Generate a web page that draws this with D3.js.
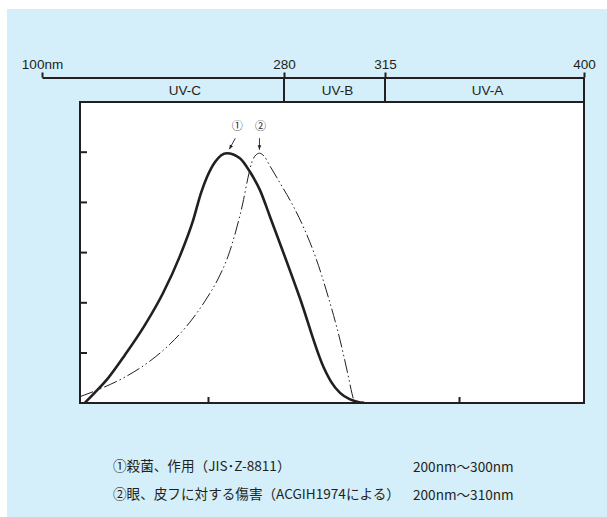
<!DOCTYPE html>
<html>
<head>
<meta charset="utf-8">
<script src="https://cdn.jsdelivr.net/npm/d3@7"></script>
<style>
  body { margin: 0; background: #fff; }
  svg { display: block; }
</style>
</head>
<body>
<svg id="chart" width="607" height="517"></svg>
<script>
// Top wavelength scale (schematic, not linear)
const topTicks = [100, 280, 315, 400];
const topLabels = ['100nm', '280', '315', '400'];
const bands = [
  { name: 'UV-C', from: 100, to: 280 },
  { name: 'UV-B', from: 280, to: 315 },
  { name: 'UV-A', from: 315, to: 400 }
];

// Lower plot ticks
const xTicks = [250, 350];
const yTicks = [20, 40, 60, 80, 100];

// ① germicidal action [nm, relative %]
const germicidal = [
  [201, 0], [205, 4.1], [210.2, 9.8], [216.9, 19], [224.9, 31], [232.1, 43.7],
  [238.8, 58.4], [244, 72.4], [247.2, 83.5], [249.6, 89.9], [252.8, 95.9],
  [257.5, 99.4], [262.7, 97.4], [266.7, 92], [270.7, 84.7], [274.7, 74.1],
  [286.6, 41.7], [296.2, 13.8], [299, 8.4], [302.6, 3.9], [306.6, 1.3],
  [309.8, 0.3], [312.2, 0]
];

// ② eye / skin hazard (ACGIH 1974) [nm, relative %]
const hazard = [
  [199, 2.4], [207, 5.5], [216.9, 10.2], [226.9, 16.6], [234.9, 23.4],
  [242.8, 32.1], [248.8, 40.5], [254, 49.3], [258, 58.4], [261.2, 68.8],
  [263.9, 79.6], [265.9, 89.5], [267.5, 95.9], [269.1, 98.7], [270.5, 99.4],
  [272.3, 98.3], [274.7, 94.3], [278.7, 87.5], [283.5, 79.2], [288.2, 69.6],
  [293, 57.6], [297.8, 42.5], [302.6, 25], [305.8, 11], [307.4, 3.5], [308.2, 0.4]
];

const legendRows = [
  { label: '①殺菌、作用（JIS･Z-8811）', range: '200nm～300nm' },
  { label: '②眼、皮フに対する傷害（ACGIH1974による）', range: '200nm～310nm' }
];

const ink = '#231f20';
const svg = d3.select('#chart');

// fondo
svg.append('rect')
  .attr('x', 7).attr('y', 9)
  .attr('width', 600).attr('height', 508)
  .attr('fill', '#d4eefa');

const axisY = 77.5;
const box = { left: 80, right: 584, top: 102, bottom: 403 };

const topX = d3.scaleLinear()
  .domain(topTicks)
  .range([42, 284, 385, 584]);

const x = d3.scaleLinear().domain([200, 400]).range([82.5, 584.5]);
const y = d3.scaleLinear().domain([0, 100]).range([402.7, 151.7]);

// plot box
svg.append('rect')
  .attr('x', box.left).attr('y', box.top)
  .attr('width', box.right - box.left).attr('height', box.bottom - box.top)
  .attr('fill', '#fff')
  .attr('stroke', ink)
  .attr('stroke-width', 2);

// top axis
const topAxis = svg.append('g')
  .attr('transform', `translate(0,${axisY})`)
  .call(d3.axisTop(topX)
    .tickValues(topTicks)
    .tickSize(5)
    .tickSizeOuter(0)
    .tickPadding(4)
    .tickFormat((d, i) => topLabels[i]));
topAxis.attr('font-size', null).attr('font-family', null);
topAxis.select('.domain').attr('stroke', ink).attr('stroke-width', 2);
topAxis.selectAll('.tick line').attr('stroke', ink).attr('stroke-width', 2);
topAxis.selectAll('.tick text')
  .attr('fill', ink)
  .style('font-family', '"Liberation Sans", Arial, sans-serif')
  .style('font-size', '13.5px');

// band dividers
svg.append('g')
  .selectAll('line')
  .data(topTicks.slice(1))
  .enter()
  .append('line')
  .attr('x1', d => topX(d)).attr('x2', d => topX(d))
  .attr('y1', axisY).attr('y2', d => d === 400 ? box.bottom : box.top)
  .attr('stroke', ink)
  .attr('stroke-width', 2);

// band labels
svg.append('g')
  .selectAll('text')
  .data(bands)
  .enter()
  .append('text')
  .attr('x', d => (Math.max(box.left, topX(d.from)) + topX(d.to)) / 2 + 3)
  .attr('y', 94.5)
  .attr('text-anchor', 'middle')
  .attr('fill', ink)
  .style('font-family', '"Liberation Sans", Arial, sans-serif')
  .style('font-size', '13.5px')
  .text(d => d.name);

// inner ticks
const gx = svg.append('g')
  .attr('transform', `translate(0,${box.bottom})`)
  .call(d3.axisBottom(x).tickValues(xTicks).tickSize(-6).tickFormat(''));
gx.select('.domain').remove();
gx.selectAll('.tick line').attr('stroke', ink).attr('stroke-width', 2);

const gy = svg.append('g')
  .attr('transform', `translate(${box.left},0)`)
  .call(d3.axisLeft(y).tickValues(yTicks).tickSize(-7).tickFormat(''));
gy.select('.domain').remove();
gy.selectAll('.tick line').attr('stroke', ink).attr('stroke-width', 2);

// curves
const line = d3.line()
  .x(d => x(d[0]))
  .y(d => y(d[1]))
  .curve(d3.curveMonotoneX);

svg.append('path')
  .datum(hazard)
  .attr('d', line)
  .attr('fill', 'none')
  .attr('stroke', ink)
  .attr('stroke-width', 1)
  .attr('stroke-dasharray', '14,3,1.5,3,1.5,3');

svg.append('path')
  .datum(germicidal)
  .attr('d', line)
  .attr('fill', 'none')
  .attr('stroke', ink)
  .attr('stroke-width', 2.6)
  .attr('stroke-linejoin', 'round');

// arrow markers
svg.append('defs').append('marker')
  .attr('id', 'arrow')
  .attr('viewBox', '0 0 10 10')
  .attr('refX', 10).attr('refY', 5)
  .attr('markerWidth', 5).attr('markerHeight', 5)
  .attr('orient', 'auto')
  .append('path')
  .attr('d', 'M0,1L10,5L0,9Z')
  .attr('fill', ink);

const peak1 = germicidal.reduce((a, b) => (b[1] > a[1] ? b : a));
const peak2 = hazard.reduce((a, b) => (b[1] > a[1] ? b : a));
const notes = [
  { mark: '①', p: peak1, lx: 10.5, ax0: 8.5, ay0: -15, ax1: 2.5, ay1: -4 },
  { mark: '②', p: peak2, lx: 1, ax0: 0, ay0: -15, ax1: 0, ay1: -3.5 }
];

notes.forEach(n => {
  const px = x(n.p[0]), py = y(n.p[1]);
  svg.append('text')
    .attr('x', px + n.lx)
    .attr('y', py - 28)
    .attr('text-anchor', 'middle')
    .attr('dominant-baseline', 'central')
    .attr('fill', ink)
    .style('font-family', '"Noto Sans CJK JP", sans-serif')
    .style('font-size', '11px')
    .text(n.mark);
  svg.append('line')
    .attr('x1', px + n.ax0).attr('y1', py + n.ay0)
    .attr('x2', px + n.ax1).attr('y2', py + n.ay1)
    .attr('stroke', ink)
    .attr('stroke-width', 0.9)
    .attr('marker-end', 'url(#arrow)');
});

// legend
const legend = svg.append('g')
  .style('font-family', '"Noto Sans CJK JP", sans-serif')
  .style('font-size', '13.6px')
  .attr('fill', ink);

legendRows.forEach((r, i) => {
  legend.append('text').attr('x', 113).attr('y', 471 + i * 28).text(r.label);
  legend.append('text').attr('x', 413).attr('y', 471.5 + i * 28).text(r.range);
});
</script>
</body>
</html>
